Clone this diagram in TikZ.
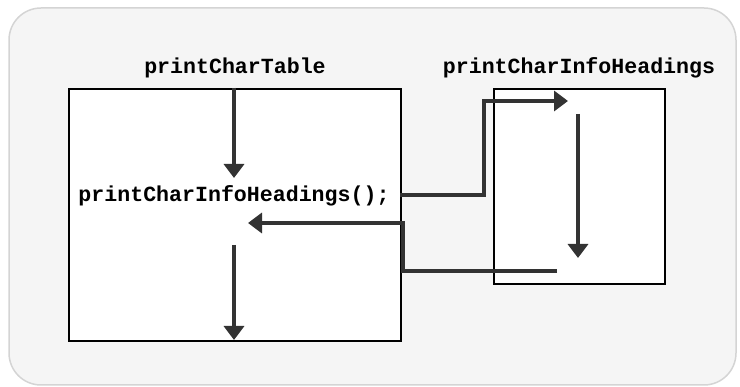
\documentclass[tikz,border=0pt]{standalone}
\usepackage{fontspec}
\setmonofont{Liberation Mono}
\usetikzlibrary{arrows.meta}
\definecolor{panelfill}{HTML}{F5F5F5}
\definecolor{paneledge}{HTML}{D4D4D4}
\definecolor{flow}{HTML}{333333}
\tikzset{
  codefont/.style={font=\ttfamily\bfseries\fontsize{21.6}{24}\selectfont},
  framebox/.style={draw=black, line width=1.6pt, fill=white, inner sep=0pt},
  flowline/.style={draw=flow, line width=4pt, -{Triangle[length=14pt,width=20pt]}},
  flowplain/.style={draw=flow, line width=4pt},
}
\begin{document}
\begin{tikzpicture}[x=1pt, y=-1pt]
\useasboundingbox (0,0) rectangle (740,387);
% background panel
\draw[paneledge, fill=panelfill, line width=1.5pt, rounded corners=32pt] (9,8) rectangle (736,385);
% procedure frames
\node[framebox, minimum width=332pt, minimum height=252pt, anchor=north west] (caller) at (68,88) {};
\node[framebox, minimum width=171pt, minimum height=195pt, anchor=north west] (callee) at (493,88) {};
% titles
\node[codefont] (callerTitle) at (235,68) {printCharTable};
\node[codefont] (calleeTitle) at (579,68) {printCharInfoHeadings};
\node[codefont] (callStmt) at (234,196) {printCharInfoHeadings();};
% flow points
\coordinate (inTop) at (234,88);
\coordinate (beforeCall) at (234,178);
\coordinate (afterCall) at (234,245);
\coordinate (outBottom) at (234,340);
\coordinate (callStart) at (400,195);
\coordinate (calleeEntry) at (568,101);
\coordinate (bodyTop) at (578,114);
\coordinate (bodyBottom) at (578,258);
\coordinate (retStart) at (557,271);
\coordinate (retEnd) at (248,223);
% control flow in caller
\draw[flowline] (inTop) -- (beforeCall);
\draw[flowline] (afterCall) -- (outBottom);
% call into callee
\draw[flowline] (callStart) -- (484,195) -- (484,101) -- (calleeEntry);
% callee body
\draw[flowline] (bodyTop) -- (bodyBottom);
% return to caller
\draw[flowline] (retStart) -- (403,271) -- (403,223) -- (retEnd);
\end{tikzpicture}
\end{document}
